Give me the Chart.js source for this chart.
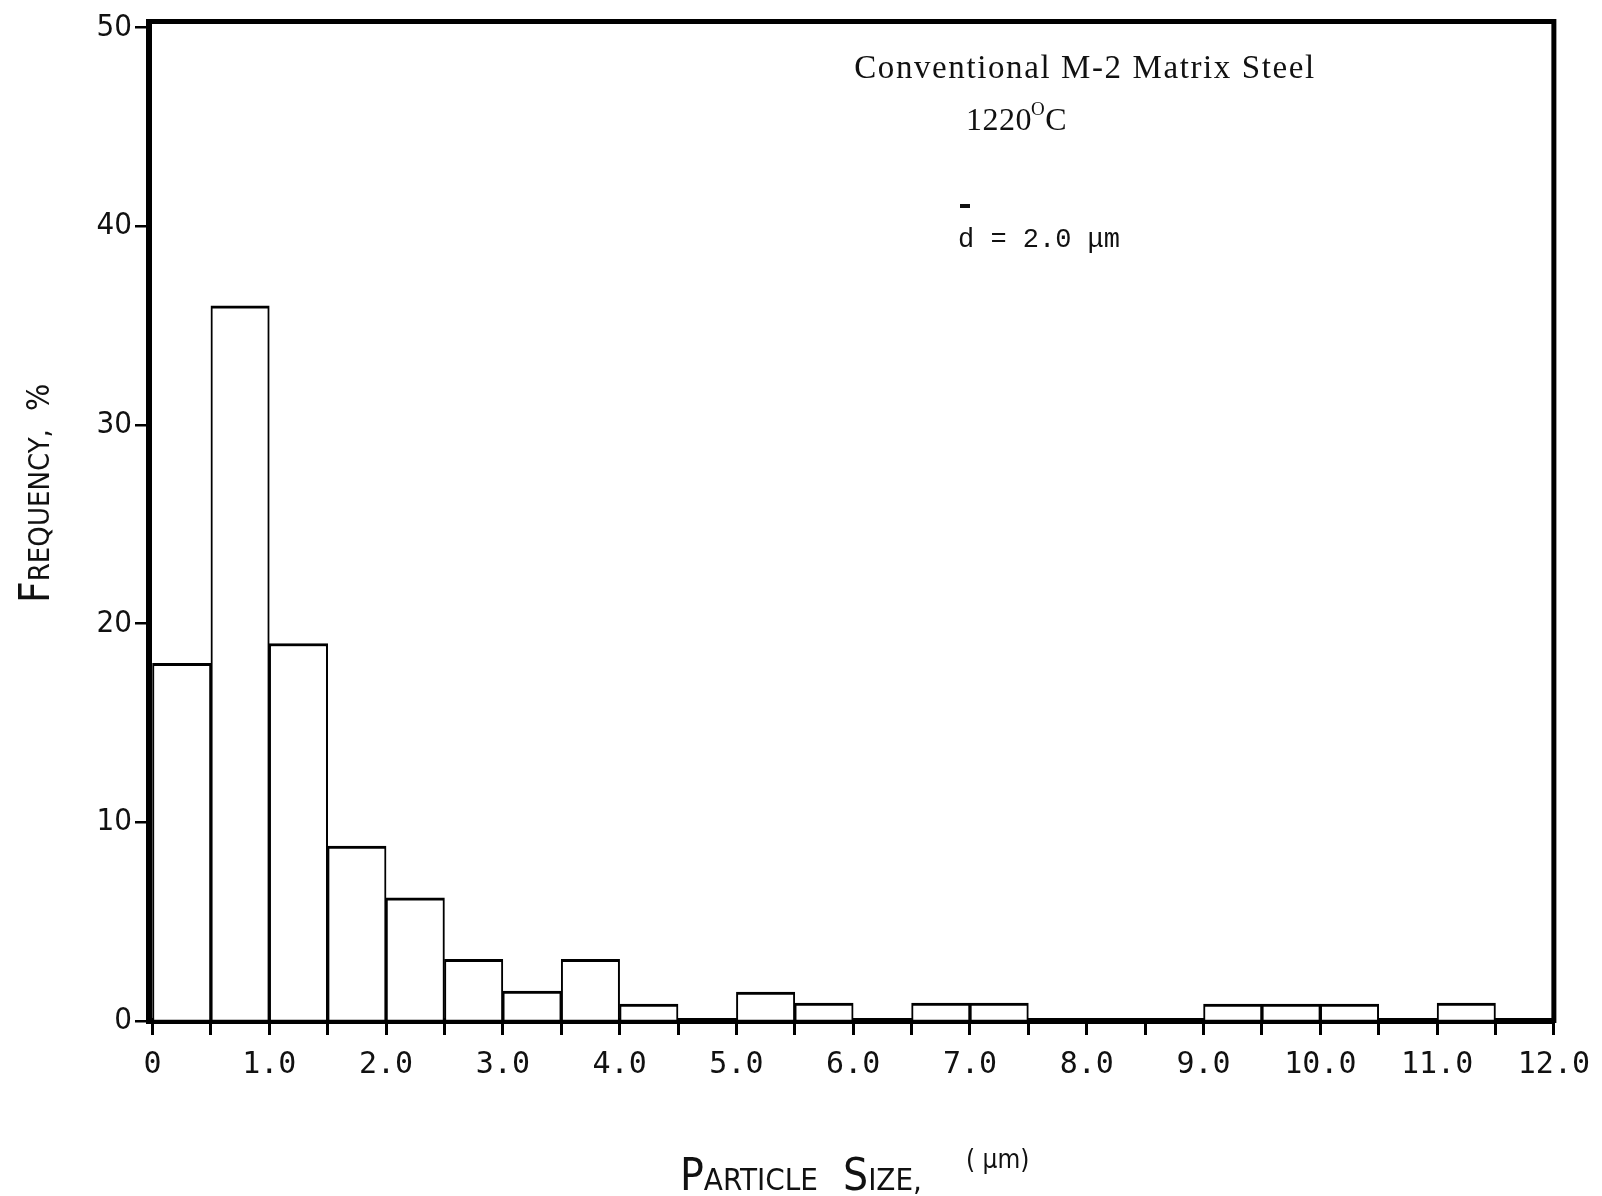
<!DOCTYPE html>
<html><head><meta charset="utf-8">
<script src="https://cdn.jsdelivr.net/npm/chart.js@4.4.0/dist/chart.umd.min.js"></script>
<style>html,body{margin:0;padding:0;background:#fff;}#wrap{width:1602px;height:1196px;}</style>
</head><body><div id="wrap"><canvas id="c" width="1602" height="1196"></canvas></div>
<script>
// Histogram bins (centre of each 0.5 µm bin) and frequency in %
const binCenters = [0.25, 0.75, 1.25, 1.75, 2.25, 2.75, 3.25, 3.75, 4.25, 5.25, 5.75, 6.75, 7.25, 9.25, 9.75, 10.25, 11.25];
const frequency  = [18,   36,   19,   8.8,  6.2,  3.1,  1.5,  3.1,  0.85, 1.45, 0.9,  0.9,  0.9,  0.85, 0.85, 0.85, 0.9];
const xTickLabels = ['0','1.0','2.0','3.0','4.0','5.0','6.0','7.0','8.0','9.0','10.0','11.0','12.0'];
const yTickLabels = ['0','10','20','30','40','50'];
const annoTitle = 'Conventional M\u20102 Matrix Steel';
const annoTemp = ['1220', 'O', 'C'];
const annoMean = 'd = 2.0 \u03bcm';

const NARROW = "'Liberation Sans Narrow','DejaVu Sans Condensed','Roboto Condensed','Liberation Sans',sans-serif";

const textPlugin = {
  id: 'texts',
  afterDraw(chart) {
    const ctx = chart.ctx, a = chart.chartArea;
    ctx.save();
    // frame top & right
    ctx.strokeStyle = '#000'; ctx.lineWidth = 5;
    ctx.beginPath();
    ctx.moveTo(a.left - 2, a.top); ctx.lineTo(a.right, a.top); ctx.lineTo(a.right, a.bottom + 2);
    ctx.stroke();

    ctx.fillStyle = '#111';
    ctx.textBaseline = 'alphabetic';
    // annotation
    ctx.font = "33px 'Liberation Serif',serif";
    ctx.letterSpacing = '1.6px';
    ctx.textAlign = 'center';
    ctx.fillText(annoTitle, 1085, 78);
    ctx.textAlign = 'left';
    ctx.font = "32px 'Liberation Serif',serif";
    ctx.letterSpacing = '0.5px';
    ctx.fillText(annoTemp[0], 966, 130);
    let w = ctx.measureText(annoTemp[0]).width;
    ctx.font = "19px 'Liberation Serif',serif";
    ctx.fillText(annoTemp[1], 966 + w - 1, 115);
    let w2 = ctx.measureText(annoTemp[1]).width;
    ctx.font = "32px 'Liberation Serif',serif";
    ctx.fillText(annoTemp[2], 966 + w + w2 - 1, 130);
    ctx.font = "27px 'Liberation Mono',monospace";
    ctx.letterSpacing = '0px';
    ctx.fillText(annoMean, 958, 247);
    ctx.fillRect(960, 204, 10, 4);

    // x-axis title, small caps drawn by parts
    ctx.letterSpacing = '0px';
    const parts = [['P',44],['ARTICLE',31]];
    let x = 680;
    for (const [t, s] of parts) {
      ctx.font = s + 'px ' + NARROW;
      ctx.fillText(t, x, 1190);
      x += ctx.measureText(t).width;
    }
    const parts2 = [['S',44],['IZE,',31]];
    x = 843;
    for (const [t, s] of parts2) {
      ctx.font = s + 'px ' + NARROW;
      ctx.fillText(t, x, 1190);
      x += ctx.measureText(t).width;
    }
    ctx.font = '26px ' + NARROW;
    ctx.fillText('( \u03bcm)', 966, 1168);

    // y-axis title (rotated)
    ctx.translate(49, 603);
    ctx.rotate(-Math.PI / 2);
    const yparts = [['F',42],['REQUENCY,',29]];
    x = 0;
    for (const [t, s] of yparts) {
      ctx.font = s + 'px ' + NARROW;
      ctx.fillText(t, x, 0);
      x += ctx.measureText(t).width;
    }
    ctx.font = '32px ' + NARROW;
    ctx.fillText('%', 192, 0);
    ctx.restore();
  }
};

new Chart(document.getElementById('c'), {
  type: 'bar',
  data: {
    datasets: [{
      data: binCenters.map((c, i) => ({x: c, y: frequency[i]})),
      backgroundColor: '#fff',
      borderColor: '#000',
      borderWidth: {top: 3, left: 2, right: 2, bottom: 0},
      borderSkipped: 'start',
      barPercentage: 1,
      categoryPercentage: 1
    }]
  },
  options: {
    responsive: false,
    animation: false,
    layout: {padding: {top: 21, right: 45, left: 0, bottom: 0}},
    plugins: {legend: {display: false}, tooltip: {enabled: false}},
    scales: {
      x: {
        type: 'linear', min: -0.03, max: 12, offset: false,
        afterFit(s) { s.height = 175; },
        afterBuildTicks(s) {
          const t = [];
          for (let i = 0; i <= 24; i++) t.push({value: i / 2});
          s.ticks = t;
        },
        ticks: {
          autoSkip: false, maxRotation: 0, minRotation: 0, padding: 12,
          color: '#111', font: {family: "'DejaVu Sans Mono',monospace", size: 30},
          callback: v => Number.isInteger(v) ? xTickLabels[v] : ''
        },
        grid: {display: true, offset: false, drawOnChartArea: false, drawTicks: true, tickLength: 14, lineWidth: 3, color: '#000'},
        border: {display: true, width: 6, color: '#000'}
      },
      y: {
        min: 0, max: 50.3,
        afterFit(s) { s.width = 149; },
        ticks: {
          stepSize: 10, includeBounds: false, padding: 3, color: '#111',
          font: {family: NARROW, size: 31},
          callback: (v) => yTickLabels[v / 10]
        },
        grid: {display: true, drawOnChartArea: false, drawTicks: true, tickLength: 14, lineWidth: 2.5, color: '#000'},
        border: {display: true, width: 6, color: '#000'}
      }
    }
  },
  plugins: [textPlugin]
});
</script></body></html>
